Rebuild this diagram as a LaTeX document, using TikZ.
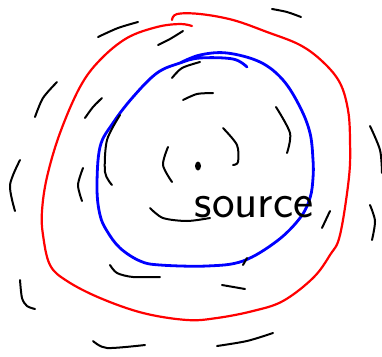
\documentclass[tikz,border=0pt]{standalone}
\usetikzlibrary{calc,shapes.geometric}
\definecolor{RingRed}{rgb}{1,0,0}
\definecolor{RingBlue}{rgb}{0,0,1}

\begin{document}
\begin{tikzpicture}[x=1pt,y=-1pt,
  wave/.style={line width=2pt,color=black,line cap=round,line join=round},
  redring/.style={line width=2.2pt,color=RingRed,line cap=round,line join=round},
  bluering/.style={line width=2.8pt,color=RingBlue,line cap=round,line join=round}]
\useasboundingbox (0,0) rectangle (382,356);

% outer (red) front
\draw[redring] plot[smooth,tension=0.6] coordinates {(172,20) (177,14) (200,14) (233,20) (267,32) (300,45) (323,62) (340,83) (348,110) (350,140) (349,177) (340,235) (330,255) (313,278) (283,301) (253,311) (217,318) (187,320) (143,313) (100,298) (67,281) (50,265) (43,235) (42,211) (47,177) (60,133) (80,87) (100,60) (127,38) (157,27) (180,24) (192,26)};

% inner (blue) front
\draw[bluering] plot[smooth,tension=0.6] coordinates {(180,63) (200,55) (227,53) (260,62) (283,80) (300,107) (310,133) (313,160) (313,178) (310,198) (300,218) (277,241) (243,261) (207,266) (160,265) (140,261) (120,248) (107,231) (100,215) (97,188) (100,147) (113,123) (133,97) (157,73) (180,63) (200,58) (233,59) (247,67)};

% the source itself
\node[fill=black,ellipse,inner sep=0pt,minimum width=6pt,minimum height=9pt] (dot) at (198,166) {};
\node[font=\sffamily\fontsize{48}{48}\selectfont,inner sep=0pt] (src) at (254,207) {source};

% wave fronts, sketched
\draw[wave] plot[smooth] coordinates {(98,37) (118,28) (138,22)};
\draw[wave] plot[smooth] coordinates {(158,45) (170,39) (183,31)};
\draw[wave] plot[smooth] coordinates {(272,9) (287,12) (301,17)};
\draw[wave] plot[smooth] coordinates {(35,117) (43,98) (57,82)};
\draw[wave] plot[smooth] coordinates {(85,118) (93,107) (102,98)};
\draw[wave] plot[smooth] coordinates {(172,78) (182,68) (200,62)};
\draw[wave] plot[smooth] coordinates {(183,100) (197,94) (213,93)};
\draw[wave] plot[smooth] coordinates {(276,107) (290,133) (287,153)};
\draw[wave] plot[smooth] coordinates {(370,126) (380,150) (382,173)};
\draw[wave] plot[smooth] coordinates {(370,205) (375,221) (372,240)};
\draw[wave] plot[smooth] coordinates {(120,115) (107,140) (105,172) (112,185)};
\draw[wave] plot[smooth] coordinates {(168,147) (163,165) (172,182)};
\draw[wave] plot[smooth] coordinates {(223,128) (237,145) (238,162) (233,165)};
\draw[wave] plot[smooth] coordinates {(20,160) (10,185) (15,211)};
\draw[wave] plot[smooth] coordinates {(83,168) (78,185) (82,201)};
\draw[wave] plot[smooth] coordinates {(150,208) (163,218) (187,221) (210,218)};
\draw[wave] plot[smooth] coordinates {(330,211) (322,228)};
\draw[wave] plot[smooth] coordinates {(247,258) (243,265)};
\draw[wave] plot[smooth] coordinates {(110,265) (117,273) (133,277) (160,277)};
\draw[wave] plot[smooth] coordinates {(222,285) (245,289)};
\draw[wave] plot[smooth] coordinates {(20,280) (22,298) (27,306) (35,309)};
\draw[wave] plot[smooth] coordinates {(93,341) (107,348) (145,345)};
\draw[wave] plot[smooth] coordinates {(217,346) (247,341) (273,333)};

\end{tikzpicture}
\end{document}
